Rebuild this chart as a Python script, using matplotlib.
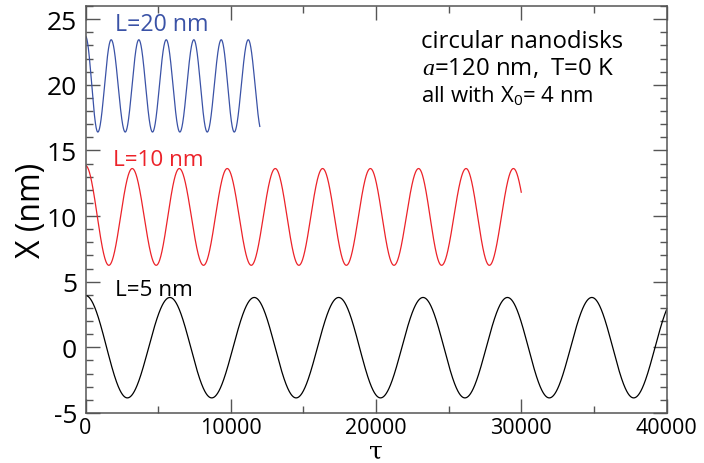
import numpy as np
import matplotlib
matplotlib.use("Agg")
import matplotlib.pyplot as plt
from matplotlib.ticker import MultipleLocator

plt.rcParams['font.family'] = ['Open Sans', 'DejaVu Sans']
plt.rcParams['mathtext.fontset'] = 'custom'
plt.rcParams['mathtext.rm'] = 'Open Sans'
plt.rcParams['mathtext.it'] = 'Liberation Serif:italic'
plt.rcParams['axes.unicode_minus'] = False

# turning points (tau, X); last entry of each is the next
# turning point just past where the curve stops
t_ext_5nm = [0, 2880, 5810, 8690, 11620, 14500, 17430, 20310, 23240, 26120,
             29050, 31930, 34860, 37740, 40670]
x_ext_5nm = [3.95, -3.85, 3.8, -3.85, 3.8, -3.85, 3.8, -3.85, 3.8, -3.85,
             3.8, -3.85, 3.8, -3.85, 3.8]
t_end_5nm = 40000

t_ext_10nm = [0, 1606, 3216, 4869, 6458, 8127, 9757, 11411, 13066, 14690,
              16324, 17959, 19613, 21238, 22932, 24516, 26201, 27805, 29460, 31100]
x_ext_10nm = [13.85, 6.25, 13.62, 6.25, 13.62, 6.25, 13.62, 6.25, 13.62, 6.25,
              13.62, 6.25, 13.62, 6.25, 13.62, 6.25, 13.62, 6.25, 13.62, 6.25]
t_end_10nm = 30000

t_ext_20nm = [0, 849, 1768, 2735, 3671, 4614, 5558, 6495, 7459, 8381,
              9346, 10241, 11206, 12150]
x_ext_20nm = [23.7, 16.4, 23.43, 16.4, 23.43, 16.4, 23.43, 16.4, 23.43, 16.4,
              23.43, 16.4, 23.43, 16.4]
t_end_20nm = 12000


def trace(t_ext, x_ext, t_end, n=3000):
    # smooth half-cosine swing between consecutive turning points
    t_ext = np.asarray(t_ext, float)
    x_ext = np.asarray(x_ext, float)
    t = np.linspace(0, t_end, n)
    i = np.clip(np.searchsorted(t_ext, t, side='right') - 1, 0, len(t_ext) - 2)
    f = (t - t_ext[i]) / (t_ext[i + 1] - t_ext[i])
    x = x_ext[i] + (x_ext[i + 1] - x_ext[i]) * (1 - np.cos(np.pi * f)) / 2
    return t, x


fig = plt.figure(figsize=(7.04, 4.64), dpi=100)
ax = fig.add_axes([85.5 / 704, 50 / 464, 581 / 704, 407 / 464])

blue = '#3a52a6'
red = '#ec2229'

ax.plot(*trace(t_ext_20nm, x_ext_20nm, t_end_20nm), color=blue, lw=0.9)
ax.plot(*trace(t_ext_10nm, x_ext_10nm, t_end_10nm), color=red, lw=0.9)
ax.plot(*trace(t_ext_5nm, x_ext_5nm, t_end_5nm), color='black', lw=0.9)

ax.text(2000, 24.6, 'L=20 nm', color=blue, fontsize=16.7, va='center')
ax.text(1860, 14.3, 'L=10 nm', color=red, fontsize=16.2, va='center')
ax.text(2000, 4.4, 'L=5 nm', color='black', fontsize=16.2, va='center')

ax.text(23100, 23.3, 'circular nanodisks', fontsize=17.2, va='center')
ax.text(23150, 21.3, r'$a$=120 nm,  T=0 K', fontsize=17.3, va='center')
ax.text(23100, 19.25, r'all with X$_0$= 4 nm', fontsize=15.9, va='center')

ax.set_xlim(0, 40000)
ax.set_ylim(-5, 26)
ax.xaxis.set_major_locator(MultipleLocator(10000))
ax.xaxis.set_minor_locator(MultipleLocator(5000))
ax.yaxis.set_major_locator(MultipleLocator(5))
ax.yaxis.set_minor_locator(MultipleLocator(1))

ax.tick_params(which='both', direction='in', top=True, right=True,
               color='#555555', width=1)
ax.tick_params(which='major', length=10)
ax.tick_params(which='minor', length=5)
ax.tick_params(axis='x', labelsize=15.5, pad=3)
ax.tick_params(axis='y', labelsize=19, pad=6)
for s in ax.spines.values():
    s.set_color('#555555')
    s.set_linewidth(1.1)

ax.set_xlabel('τ', fontsize=18, family='DejaVu Serif', labelpad=1)
ax.set_ylabel('X (nm)', fontsize=23, labelpad=-1)

fig.savefig('out.png', dpi=100)
